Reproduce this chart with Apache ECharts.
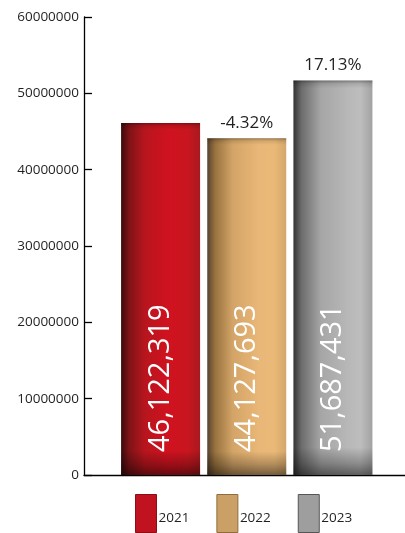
<!DOCTYPE html>
<html><head><meta charset="utf-8">
<script src="https://cdn.jsdelivr.net/npm/echarts@6/dist/echarts.min.js"></script>
<style>html,body{margin:0;padding:0;background:#fff}#c{width:405px;height:533px}</style>
</head><body><div id="c"></div>
<script>
const categories = ['2021', '2022', '2023'];
const values = [46122319, 44127693, 51687431];
const changeLabels = ['', '-4.32%', '17.13%'];
const yTicks = [0, 10000000, 20000000, 30000000, 40000000, 50000000, 60000000];

const gradients = [
  [['#3a0b0d',0],['#7e1317',0.1],['#b8151e',0.3],['#d0121f',0.6],['#c8161f',0.85],['#a8191f',1]],
  [['#584330',0],['#98723f',0.1],['#d3a467',0.32],['#e9b777',0.65],['#eab978',0.85],['#d3a66a',1]],
  [['#333333',0],['#6c6c6c',0.1],['#a6a6a6',0.35],['#b8b8b8',0.7],['#bdbdbd',0.85],['#a2a2a2',1]]
];
const legendColors = [['#c0131f','#8b1016'],['#cba067','#8e6c3b'],['#9e9e9e','#555555']];

function grad(stops){
  return {type:'linear',x:0,y:0,x2:1,y2:0,colorStops:stops.map(s=>({offset:s[1],color:s[0]}))};
}
const shade = {type:'linear',x:0,y:0,x2:0,y2:1,colorStops:[
  {offset:0,color:'rgba(0,0,0,0.35)'},{offset:0.008,color:'rgba(0,0,0,0.1)'},{offset:0.02,color:'rgba(0,0,0,0)'},
  {offset:0.93,color:'rgba(0,0,0,0)'},{offset:0.97,color:'rgba(0,0,0,0.25)'},{offset:1,color:'rgba(0,0,0,0.5)'}]};
const font = '"Open Sans", "Noto Sans", sans-serif';

const series = [];
categories.forEach((name,i)=>{
  series.push({
    name: name,
    type: 'bar',
    xAxisIndex: 0, yAxisIndex: 0,
    barWidth: 79,
    barGap: '-100%',
    data: categories.map((c,j)=> j===i ? values[i] : null),
    itemStyle: {color: grad(gradients[i])},
    markPoint: changeLabels[i] ? {
      symbol: 'rect', symbolSize: 1, itemStyle:{color:'rgba(0,0,0,0)'},
      data: [{coord:[i, values[i]], value: changeLabels[i]}],
      label: {show:true, position:'top', distance: 6, color:'#231f20', fontSize:17, fontFamily:font, formatter: changeLabels[i]}
    } : undefined
  });
});
categories.forEach((name,i)=>{
  series.push({
    name: name + ' shade',
    type: 'bar',
    xAxisIndex: 0, yAxisIndex: 0,
    barWidth: 79,
    barGap: '-100%',
    data: categories.map((c,j)=> j===i ? values[i] : null),
    itemStyle: {color: shade},
    label: {
      show: true,
      position: 'insideBottom',
      rotate: 90,
      align: 'left',
      verticalAlign: 'middle',
      distance: 23,
      color: '#ffffff',
      fontSize: 29,
      fontFamily: font,
      formatter: p => p.value.toLocaleString('en-US')
    }
  });
});

const chart = echarts.init(document.getElementById('c'), null, {renderer:'canvas'});
chart.setOption({
  animation: false,
  backgroundColor: '#fff',
  grid: [
    {left: 117.5, right: 29, top: 17, bottom: 58},
    {left: 84, right: 0, top: 17, bottom: 58}
  ],
  xAxis: [
    {type:'category', gridIndex:0, data: categories, axisLine:{show:false}, axisTick:{show:false}, axisLabel:{show:false}},
    {type:'value', gridIndex:1, min:0, max:1, axisLine:{show:true, lineStyle:{color:'#000', width:1.3}}, axisTick:{show:false}, axisLabel:{show:false}, splitLine:{show:false}}
  ],
  yAxis: [
    {type:'value', gridIndex:0, min: yTicks[0], max: yTicks[yTicks.length-1], interval: yTicks[1]-yTicks[0], offset: 33.5,
     axisLine:{show:true, lineStyle:{color:'#000', width:1.3}},
     axisTick:{show:true, inside:true, length:8, lineStyle:{color:'#000', width:1.3}},
     axisLabel:{margin:5, color:'#231f20', fontSize:13.5, fontFamily:font, formatter: v => String(v)},
     splitLine:{show:false}},
    {type:'value', gridIndex:1, show:false}
  ],
  legend: {
    left: 135, top: 494, padding: 0,
    itemWidth: 21, itemHeight: 38, itemGap: 27,
    icon: 'rect',
    formatter: n => '{t|' + n + '}',
    textStyle: {color:'#231f20', fontSize:13.5, fontFamily:font,
      rich: {t: {color:'#231f20', fontSize:13.5, fontFamily:font, padding:[9,0,0,-3]}}},
    data: categories.map((c,i)=>({name:c, itemStyle:{color:legendColors[i][0], borderColor:legendColors[i][1], borderWidth:1}}))
  },
  series: series
});
</script></body></html>
